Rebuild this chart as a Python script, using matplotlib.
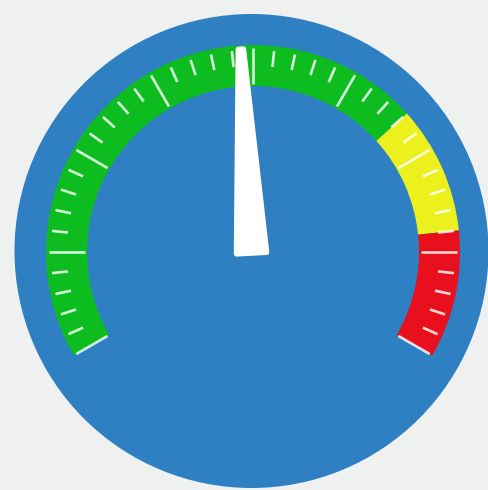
import numpy as np
import matplotlib
matplotlib.use("Agg")
import matplotlib.pyplot as plt
from matplotlib.patches import Circle, Wedge, Polygon

# Gauge scale and readings
scale_min, scale_max = 0, 80
major_step, minor_step = 10, 2
band_edges = [0, 56, 68, 80]
band_colors = ["#0dbd1f", "#ecf01c", "#e8101c"]
needle_value = 39

# Sweep: scale_min sits at 210 deg, scale_max at -30 deg
start_deg, end_deg = 210.0, -30.0


def to_angle(v):
    return start_deg + (v - scale_min) / (scale_max - scale_min) * (end_deg - start_deg)


W, H = 488, 490
fig = plt.figure(figsize=(W / 100, H / 100), dpi=100)
fig.patch.set_facecolor("#eff0f0")
ax = fig.add_axes([0, 0, 1, 1])
ax.set_xlim(0, W)
ax.set_ylim(0, H)
ax.set_aspect("equal")
ax.axis("off")

# Geometry (y measured upward)
dial_c = (251.5, H - 251)
dial_r = 237
cx, cy = 253, H - 252
r_out, r_in = 207, 166

ax.add_patch(Circle(dial_c, dial_r, facecolor="#2e80c2", edgecolor="none"))

# Coloured bands (wedges run counter-clockwise from theta1 to theta2)
for lo, hi, col in zip(band_edges[:-1], band_edges[1:], band_colors):
    ax.add_patch(Wedge((cx, cy), r_out, to_angle(hi), to_angle(lo),
                       width=r_out - r_in, facecolor=col, edgecolor="none"))

# Ticks
tick_col = (1, 1, 1, 0.82)
n_minor = int(round((scale_max - scale_min) / minor_step))
for i in range(n_minor + 1):
    v = scale_min + i * minor_step
    a = np.deg2rad(to_angle(v))
    is_major = abs((v - scale_min) % major_step) < 1e-9
    r0, r1 = (168, 204) if is_major else (186, 202)
    ax.plot([cx + r0 * np.cos(a), cx + r1 * np.cos(a)],
            [cy + r0 * np.sin(a), cy + r1 * np.sin(a)],
            color=tick_col, lw=1.9, solid_capstyle="butt")

# Needle: tapered bar with rounded corners
a = np.deg2rad(to_angle(needle_value))
u = np.array([np.cos(a), np.sin(a)])
n = np.array([-np.sin(a), np.cos(a)])
c = np.array([cx - 1.5, cy])
base = c - 1 * u
tip = c + 203 * u
pts = [base + 15 * n, tip + 2.5 * n, tip - 2.5 * n, base - 15 * n]
ax.add_patch(Polygon(pts, closed=True, facecolor="white", edgecolor="white",
                     lw=4, joinstyle="round", zorder=5))

fig.savefig("out.png", dpi=100, facecolor=fig.get_facecolor())
